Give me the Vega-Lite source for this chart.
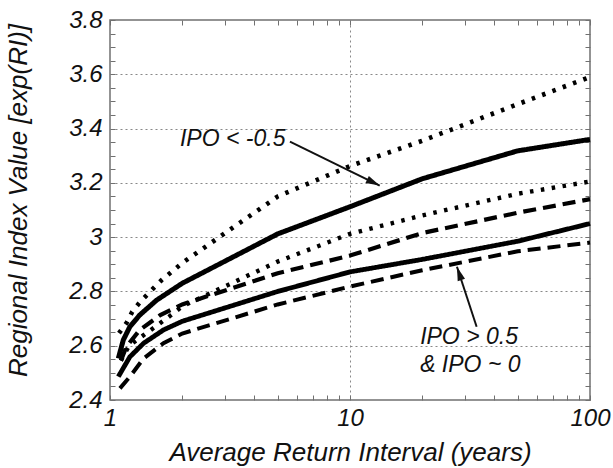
{
  "$schema": "https://vega.github.io/schema/vega-lite/v6.json",
  "width": 480,
  "height": 380,
  "autosize": {"type": "none"},
  "padding": {"left": 110, "top": 20, "right": 23, "bottom": 68},
  "background": "white",
  "config": {
    "view": {"stroke": "#707070", "strokeWidth": 1.5},
    "axis": {
      "domain": false,
      "labelFont": "Liberation Sans",
      "labelFontStyle": "italic",
      "labelFontSize": 24,
      "labelColor": "#111111",
      "titleFont": "Liberation Sans",
      "titleFontStyle": "italic",
      "titleFontWeight": "normal",
      "titleFontSize": 26,
      "titleColor": "#111111",
      "gridColor": "#888888",
      "gridDash": [2, 3],
      "gridWidth": 1
    }
  },
  "datasets": {
    "curves": [
      {"s": "S1", "x": 1.083, "y": 2.553}, {"s": "S1", "x": 1.136, "y": 2.621}, {"s": "S1", "x": 1.21, "y": 2.67}, {"s": "S1", "x": 1.33, "y": 2.713}, {"s": "S1", "x": 1.565, "y": 2.768}, {"s": "S1", "x": 2, "y": 2.83}, {"s": "S1", "x": 5, "y": 3.012}, {"s": "S1", "x": 10, "y": 3.112}, {"s": "S1", "x": 20, "y": 3.215}, {"s": "S1", "x": 50, "y": 3.318}, {"s": "S1", "x": 100, "y": 3.36},
      {"s": "D1", "x": 1.09, "y": 2.646}, {"s": "D1", "x": 1.174, "y": 2.685}, {"s": "D1", "x": 1.238, "y": 2.725}, {"s": "D1", "x": 1.346, "y": 2.765}, {"s": "D1", "x": 1.642, "y": 2.842}, {"s": "D1", "x": 2, "y": 2.905}, {"s": "D1", "x": 5, "y": 3.15}, {"s": "D1", "x": 10, "y": 3.262}, {"s": "D1", "x": 20, "y": 3.355}, {"s": "D1", "x": 50, "y": 3.49}, {"s": "D1", "x": 100, "y": 3.59},
      {"s": "D2", "x": 1.11, "y": 2.545}, {"s": "D2", "x": 1.2, "y": 2.6}, {"s": "D2", "x": 1.49, "y": 2.66}, {"s": "D2", "x": 1.78, "y": 2.71}, {"s": "D2", "x": 2, "y": 2.745}, {"s": "D2", "x": 5, "y": 2.91}, {"s": "D2", "x": 10, "y": 3.012}, {"s": "D2", "x": 20, "y": 3.08}, {"s": "D2", "x": 50, "y": 3.16}, {"s": "D2", "x": 100, "y": 3.205},
      {"s": "A1", "x": 1.11, "y": 2.545}, {"s": "A1", "x": 1.17, "y": 2.596}, {"s": "A1", "x": 1.33, "y": 2.658}, {"s": "A1", "x": 1.62, "y": 2.713}, {"s": "A1", "x": 2, "y": 2.752}, {"s": "A1", "x": 5, "y": 2.867}, {"s": "A1", "x": 10, "y": 2.932}, {"s": "A1", "x": 20, "y": 3.015}, {"s": "A1", "x": 50, "y": 3.09}, {"s": "A1", "x": 100, "y": 3.14},
      {"s": "S2", "x": 1.083, "y": 2.486}, {"s": "S2", "x": 1.21, "y": 2.559}, {"s": "S2", "x": 1.38, "y": 2.609}, {"s": "S2", "x": 1.67, "y": 2.658}, {"s": "S2", "x": 2, "y": 2.69}, {"s": "S2", "x": 5, "y": 2.8}, {"s": "S2", "x": 10, "y": 2.872}, {"s": "S2", "x": 20, "y": 2.918}, {"s": "S2", "x": 50, "y": 2.985}, {"s": "S2", "x": 100, "y": 3.05},
      {"s": "A2", "x": 1.1, "y": 2.443}, {"s": "A2", "x": 1.21, "y": 2.486}, {"s": "A2", "x": 1.38, "y": 2.553}, {"s": "A2", "x": 1.67, "y": 2.609}, {"s": "A2", "x": 2, "y": 2.645}, {"s": "A2", "x": 5, "y": 2.752}, {"s": "A2", "x": 10, "y": 2.818}, {"s": "A2", "x": 20, "y": 2.878}, {"s": "A2", "x": 50, "y": 2.948}, {"s": "A2", "x": 100, "y": 2.98}
    ],
    "notes": [
      {"x": 1.957, "y": 3.362, "t": "IPO < -0.5"},
      {"x": 19.6, "y": 2.632, "t": "IPO > 0.5"},
      {"x": 19.6, "y": 2.529, "t": "& IPO ~ 0"}
    ],
    "arrows": [
      {"id": 1, "x": 5.62, "y": 3.352, "x2": 13.3, "y2": 3.19},
      {"id": 2, "x": 33.7, "y": 2.67, "x2": 27.9, "y2": 2.891}
    ]
  },
  "layer": [
    {
      "data": {"name": "curves"},
      "mark": {"type": "line", "strokeCap": "butt", "color": "black"},
      "encoding": {
        "x": {
          "field": "x", "type": "quantitative",
          "scale": {"type": "log", "domain": [1, 100], "nice": false},
          "axis": {
            "orient": "bottom",
            "values": [1, 2, 3, 4, 5, 6, 7, 8, 9, 10, 20, 30, 40, 50, 60, 70, 80, 90, 100],
            "labelExpr": "datum.value==1||datum.value==10||datum.value==100 ? format(datum.value,'d') : ''",
            "ticks": true,
            "tickSize": -5,
            "tickColor": "#707070",
            "tickWidth": 1,
            "labelPadding": 11,
            "labelOverlap": false,
            "labelFlush": false,
            "grid": true,
            "gridOpacity": {"condition": {"test": "datum.value==10", "value": 1}, "value": 0},
            "title": "Average Return Interval (years)",
            "titleX": 240,
            "titleY": 52,
            "titleBaseline": "middle"
          }
        },
        "y": {
          "field": "y", "type": "quantitative",
          "scale": {"domain": [2.4, 3.8], "nice": false, "zero": false},
          "axis": {
            "orient": "left",
            "values": [2.4, 2.45, 2.5, 2.55, 2.6, 2.65, 2.7, 2.75, 2.8, 2.85, 2.9, 2.95, 3, 3.05, 3.1, 3.15, 3.2, 3.25, 3.3, 3.35, 3.4, 3.45, 3.5, 3.55, 3.6, 3.65, 3.7, 3.75, 3.8],
            "labelExpr": "abs(datum.value*5-round(datum.value*5))<0.001 ? format(datum.value,'.1~f') : ''",
            "ticks": true,
            "tickSize": -5,
            "tickColor": "#707070",
            "tickWidth": 1,
            "labelPadding": 13,
            "labelOverlap": false,
            "labelFlush": false,
            "grid": true,
            "gridOpacity": {"condition": {"test": "abs(datum.value*5-round(datum.value*5))<0.001 && datum.value>2.45 && datum.value<3.75", "value": 1}, "value": 0},
            "title": "Regional Index Value [exp(RI)]",
            "titleX": -92,
            "titleY": 180,
            "titleBaseline": "middle"
          }
        },
        "detail": {"field": "s"},
        "strokeDash": {
          "field": "s", "type": "nominal",
          "scale": {"domain": ["S1", "S2", "D1", "D2", "A1", "A2"], "range": [[1, 0], [1, 0], [3.5, 7.5], [3.5, 7.5], [13, 7], [13, 7]]},
          "legend": null
        },
        "strokeWidth": {
          "field": "s", "type": "nominal",
          "scale": {"domain": ["S1", "S2", "D1", "D2", "A1", "A2"], "range": [5, 4, 3.5, 3.5, 3, 3]},
          "legend": null
        }
      }
    },
    {
      "data": {"name": "notes"},
      "mark": {"type": "text", "align": "left", "baseline": "middle", "font": "Liberation Sans", "fontStyle": "italic", "fontSize": 23, "color": "#111111"},
      "encoding": {
        "x": {
          "field": "x", "type": "quantitative",
          "scale": {"type": "log", "domain": [1, 100], "nice": false},
          "axis": {"orient": "top", "values": [1, 2, 3, 4, 5, 6, 7, 8, 9, 10, 20, 30, 40, 50, 60, 70, 80, 90, 100], "labels": false, "title": null, "grid": false, "ticks": true, "tickSize": -5, "tickColor": "#707070", "tickWidth": 1}
        },
        "y": {
          "field": "y", "type": "quantitative",
          "scale": {"domain": [2.4, 3.8], "nice": false, "zero": false},
          "axis": {"orient": "right", "values": [2.4, 2.45, 2.5, 2.55, 2.6, 2.65, 2.7, 2.75, 2.8, 2.85, 2.9, 2.95, 3, 3.05, 3.1, 3.15, 3.2, 3.25, 3.3, 3.35, 3.4, 3.45, 3.5, 3.55, 3.6, 3.65, 3.7, 3.75, 3.8], "labels": false, "title": null, "grid": false, "ticks": true, "tickSize": -5, "tickColor": "#707070", "tickWidth": 1}
        },
        "text": {"field": "t"}
      }
    },
    {
      "data": {"name": "arrows"},
      "mark": {"type": "rule", "strokeWidth": 2, "color": "#111111"},
      "encoding": {
        "x": {"field": "x", "type": "quantitative", "axis": null},
        "y": {"field": "y", "type": "quantitative", "axis": null},
        "x2": {"field": "x2"},
        "y2": {"field": "y2"}
      }
    },
    {
      "data": {"name": "arrows"},
      "transform": [{"filter": "datum.id==1"}],
      "mark": {"type": "point", "shape": "M0,0 L-2,-0.55 L-2,0.55 Z", "filled": true, "size": 196, "angle": 26, "color": "#111111", "opacity": 1},
      "encoding": {
        "x": {"field": "x2", "type": "quantitative", "axis": null},
        "y": {"field": "y2", "type": "quantitative", "axis": null}
      }
    },
    {
      "data": {"name": "arrows"},
      "transform": [{"filter": "datum.id==2"}],
      "mark": {"type": "point", "shape": "M0,0 L-2,-0.55 L-2,0.55 Z", "filled": true, "size": 196, "angle": 251.6, "color": "#111111", "opacity": 1},
      "encoding": {
        "x": {"field": "x2", "type": "quantitative", "axis": null},
        "y": {"field": "y2", "type": "quantitative", "axis": null}
      }
    }
  ],
  "resolve": {"axis": {"x": "independent", "y": "independent"}}
}
